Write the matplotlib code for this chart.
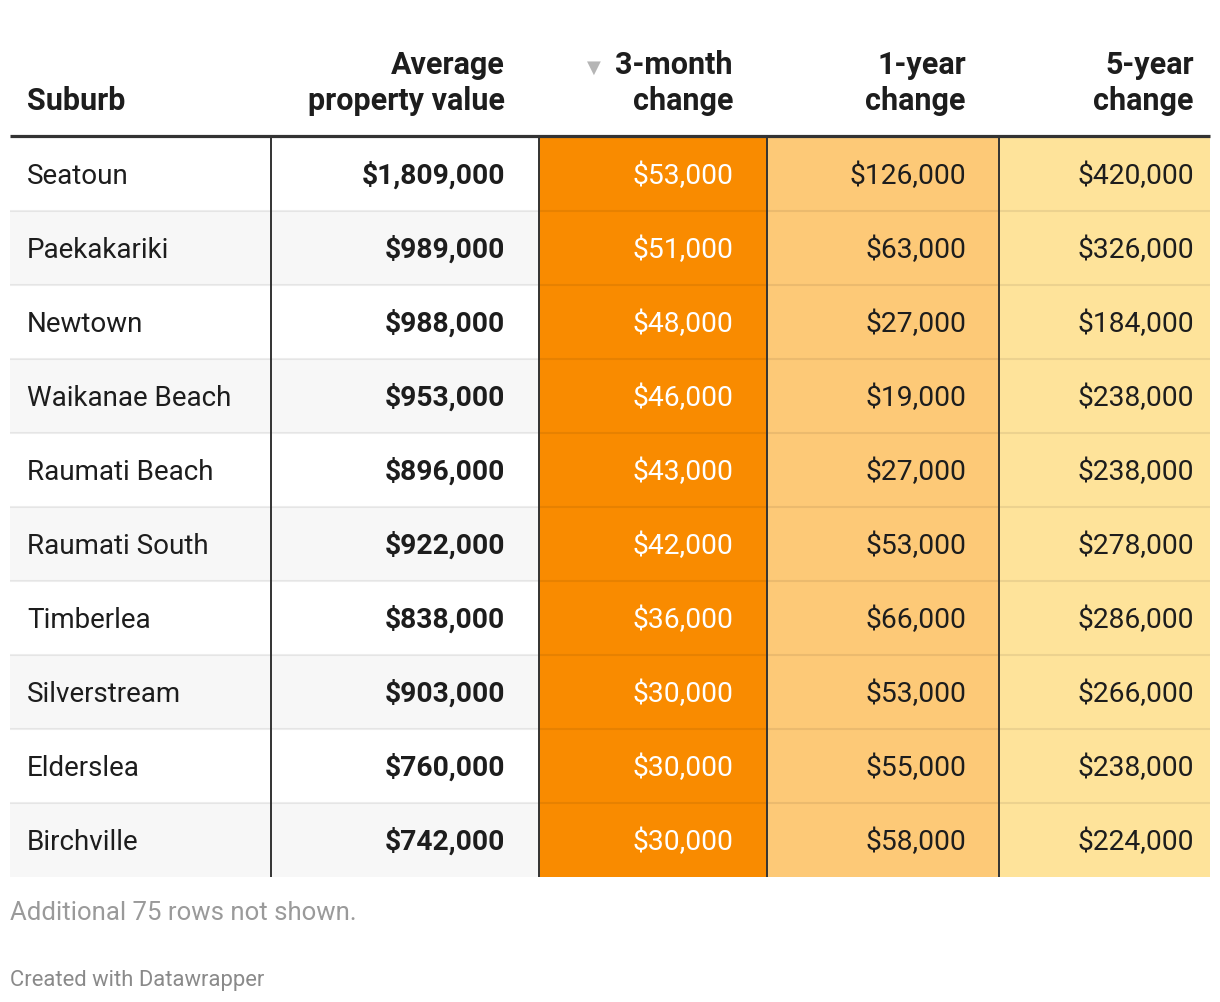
import matplotlib.pyplot as plt
from matplotlib.patches import Rectangle

plt.rcParams['font.family'] = ['Roboto', 'DejaVu Sans']

suburbs = ['Seatoun', 'Paekakariki', 'Newtown', 'Waikanae Beach', 'Raumati Beach',
           'Raumati South', 'Timberlea', 'Silverstream', 'Elderslea', 'Birchville']
avg_value = [1809000, 989000, 988000, 953000, 896000, 922000, 838000, 903000, 760000, 742000]
change_3m = [53000, 51000, 48000, 46000, 43000, 42000, 36000, 30000, 30000, 30000]
change_1y = [126000, 63000, 27000, 19000, 27000, 53000, 66000, 53000, 55000, 58000]
change_5y = [420000, 326000, 184000, 238000, 238000, 278000, 286000, 266000, 238000, 224000]

headers = [['Suburb'], ['Average', 'property value'], ['3-month', 'change'],
           ['1-year', 'change'], ['5-year', 'change']]
footnote = 'Additional 75 rows not shown.'
credit = 'Created with Datawrapper'

# layout in pixels
W, H = 1220, 1002
col_edges = [10, 271, 539, 767, 999, 1210]
right_pad = [0, 34, 34, 33, 16]
left_pad = 17
top = 137
row_h = 74
col_fill = [None, None, '#f98b00', '#fdc977', '#fee39a']
text_dark = '#1d1d1d'

fig = plt.figure(figsize=(W / 100, H / 100), dpi=100)
ax = fig.add_axes([0, 0, 1, 1])
ax.set_xlim(0, W)
ax.set_ylim(H, 0)
ax.axis('off')

n = len(suburbs)
bottom = top + n * row_h

# backgrounds
for i in range(n):
    y0 = top + i * row_h
    if i % 2 == 1:
        ax.add_patch(Rectangle((col_edges[0], y0), col_edges[2] - col_edges[0], row_h,
                               facecolor='#f7f7f7', edgecolor='none', zorder=0))
for c in range(2, 5):
    ax.add_patch(Rectangle((col_edges[c], top), col_edges[c + 1] - col_edges[c], bottom - top,
                           facecolor=col_fill[c], edgecolor='none', zorder=0))

# row separators
for i in range(1, n):
    y = top + i * row_h
    ax.plot([col_edges[0], col_edges[-1]], [y, y], color='black', alpha=0.07, lw=1.5,
            solid_capstyle='butt', zorder=1)

# vertical lines
for x in col_edges[1:5]:
    ax.plot([x, x], [top, bottom], color='#333333', lw=1.4, solid_capstyle='butt', zorder=2)

# header rule
ax.plot([col_edges[0], col_edges[-1]], [top - 1, top - 1], color='#333333', lw=2.3,
        solid_capstyle='butt', zorder=3)

# headers
for c, lines in enumerate(headers):
    for k, line in enumerate(reversed(lines)):
        yb = 110 - 36 * k
        if c == 0:
            ax.text(col_edges[0] + left_pad, yb, line, ha='left', va='baseline',
                    fontsize=22, fontweight='bold', color=text_dark)
        else:
            ax.text(col_edges[c + 1] - right_pad[c], yb, line, ha='right', va='baseline',
                    fontsize=22, fontweight='bold', color=text_dark)
ax.text(594, 73, '▼', ha='center', va='baseline', fontsize=13, color='#b5b5b5',
        family='DejaVu Sans')

# cells
cols = [avg_value, change_3m, change_1y, change_5y]
for i in range(n):
    yb = top + i * row_h + row_h / 2 + 10
    ax.text(col_edges[0] + left_pad, yb, suburbs[i], ha='left', va='baseline',
            fontsize=20, color=text_dark)
    for j, vals in enumerate(cols):
        c = j + 1
        ax.text(col_edges[c + 1] - right_pad[c], yb, '${:,}'.format(vals[i]),
                ha='right', va='baseline', fontsize=20.3,
                color='white' if c == 2 else text_dark,
                fontweight='bold' if c == 1 else 'normal')

ax.text(col_edges[0], 920, footnote, ha='left', va='baseline', fontsize=18.5, color='#9a9a9a')
ax.text(col_edges[0], 986, credit, ha='left', va='baseline', fontsize=15.8, color='#8a8a8a')

fig.savefig('out.png', dpi=100, facecolor='white')
